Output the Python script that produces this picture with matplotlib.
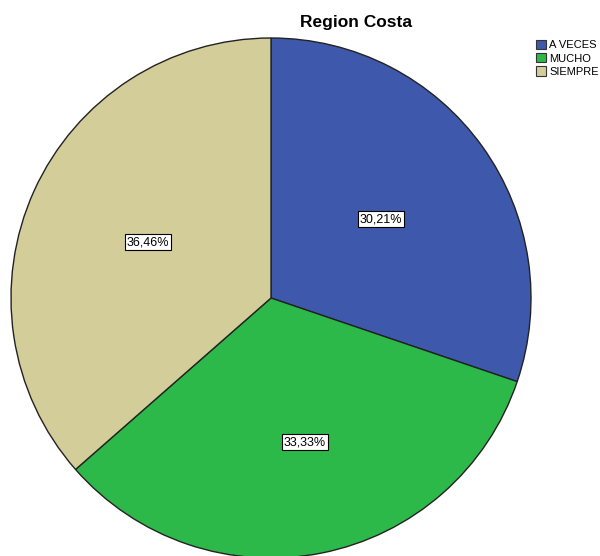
import matplotlib
matplotlib.use("Agg")
import matplotlib.pyplot as plt
from matplotlib.patches import Patch
import numpy as np

categories = ["A VECES", "MUCHO", "SIEMPRE"]
values = [30.21, 33.33, 36.46]
labels = ["30,21%", "33,33%", "36,46%"]
colors = ["#3E58AC", "#2DB84A", "#D3CD99"]
label_dist = [0.52, 0.565, 0.52]

plt.rcParams['font.family'] = ['Liberation Sans', 'DejaVu Sans']

W, H = 600, 556
fig = plt.figure(figsize=(W/100, H/100), dpi=100)
fig.patch.set_facecolor("white")

cx, cy, r = 271, 298, 260
pad = 2
ax = fig.add_axes([(cx - r - pad)/W, (H - cy - r - pad)/H, (2*r + 2*pad)/W, (2*r + 2*pad)/H])

wedges, _ = ax.pie(values, colors=colors, startangle=90, counterclock=False,
                   radius=1, wedgeprops=dict(edgecolor="#222222", linewidth=1.0))
for w in wedges:
    w.set_clip_on(False)
ax.set_aspect('auto')
ax.set_xlim(-1 - pad/r, 1 + pad/r)
ax.set_ylim(-1 - pad/r, 1 + pad/r)
ax.axis('off')

cum = 0
total = sum(values)
for v, lab, d in zip(values, labels, label_dist):
    mid = 90 - (cum + v/2) / total * 360
    cum += v
    x = d * np.cos(np.radians(mid)) + (0.02 if d > 0.53 else 0)
    y = d * np.sin(np.radians(mid))
    ax.text(x, y, lab, ha='center', va='center', fontsize=9,
            bbox=dict(boxstyle='square,pad=0.15', facecolor='white', edgecolor='black', linewidth=0.8))

fig.text(356/W, 1 - 23/H, "Region Costa", ha='center', va='center', fontsize=12.5, fontweight='bold')

handles = [Patch(facecolor=c, edgecolor='#333333', linewidth=0.8) for c in colors]
leg = fig.legend(handles, categories, loc='upper left', bbox_to_anchor=(536/W, 1 - 40/H),
                 frameon=False, fontsize=8, handlelength=0.9, handleheight=0.9,
                 handletextpad=0.3, labelspacing=0.25, borderaxespad=0, borderpad=0)

fig.savefig("out.png", dpi=100, facecolor="white")
